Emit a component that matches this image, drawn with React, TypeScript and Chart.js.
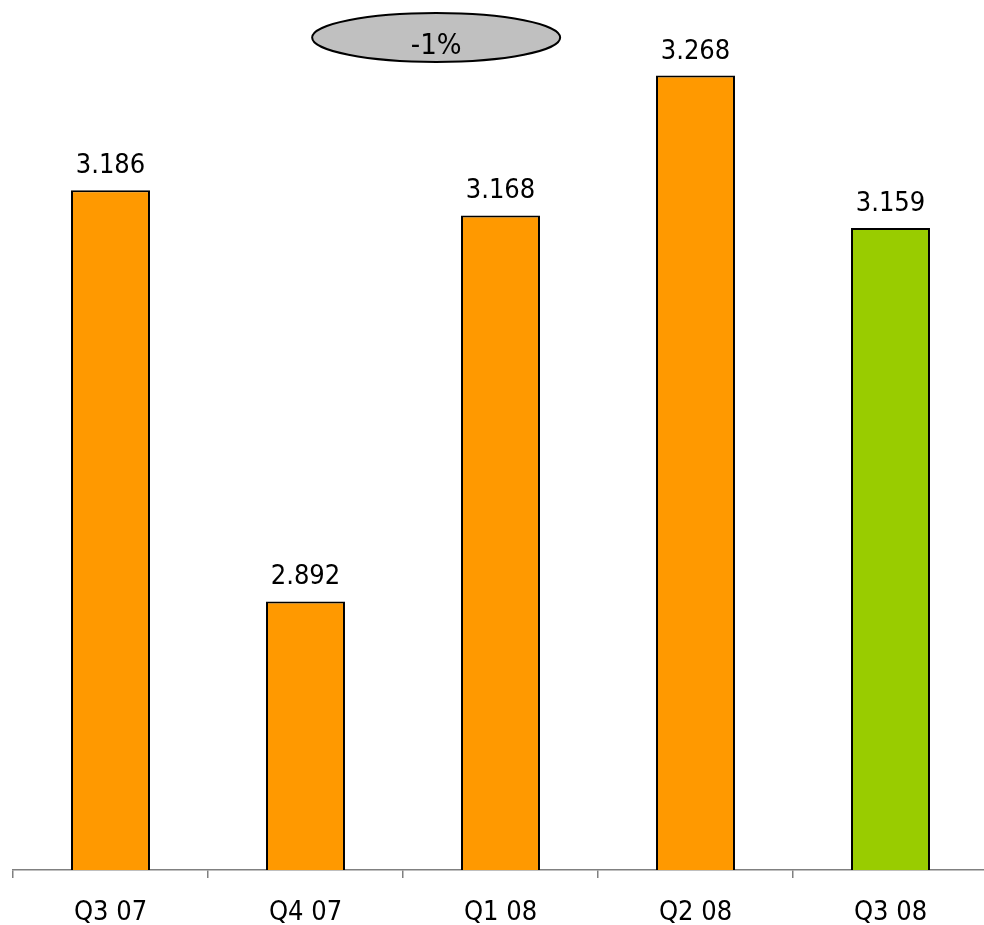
import React, { useEffect, useRef } from "react";
import { Chart, registerables } from "chart.js";

Chart.register(...registerables);

const categories = ["Q3 07", "Q4 07", "Q1 08", "Q2 08", "Q3 08"];
const values = [3.186, 2.892, 3.168, 3.268, 3.159];
const barColors = ["#FF9900", "#FF9900", "#FF9900", "#FF9900", "#99CC00"];
const changeLabel = "-1%";
const valueLabels = ["3.186", "2.892", "3.168", "3.268", "3.159"];

const FONT = "'DejaVu Sans Condensed', 'DejaVu Sans', sans-serif";

const labelPlugin = {
  id: "valueLabels",
  afterDatasetsDraw(chart: any) {
    const ctx = chart.ctx;
    const meta = chart.getDatasetMeta(0);
    ctx.save();
    ctx.font = `27px ${FONT}`;
    ctx.fillStyle = "#000";
    ctx.textAlign = "center";
    ctx.textBaseline = "alphabetic";
    meta.data.forEach((bar: any, i: number) => {
      ctx.fillText(valueLabels[i], bar.x, bar.y - 17);
    });
    // change ellipse
    const ca = chart.chartArea;
    const cx = ca.left + (ca.right - ca.left) * 0.434;
    const cy = 37.5;
    ctx.beginPath();
    ctx.ellipse(cx, cy, 124, 24.5, 0, 0, Math.PI * 2);
    ctx.fillStyle = "#C0C0C0";
    ctx.fill();
    ctx.lineWidth = 2;
    ctx.strokeStyle = "#000";
    ctx.stroke();
    ctx.fillStyle = "#000";
    ctx.font = `29px ${FONT}`;
    ctx.textBaseline = "alphabetic";
    ctx.fillText(changeLabel, cx, cy + 16);
    ctx.restore();
  },
};

export default function App() {
  const ref = useRef<HTMLCanvasElement>(null);
  useEffect(() => {
    document.body.style.margin = "0";
    document.documentElement.style.overflow = "hidden";
    document.body.style.overflow = "hidden";
    const chart = new Chart(ref.current!, {
      type: "bar",
      data: {
        labels: categories,
        datasets: [
          {
            data: values,
            backgroundColor: barColors,
            borderColor: "#000",
            borderWidth: 2,
            borderSkipped: "bottom",
            barPercentage: 0.405,
            categoryPercentage: 1,
          },
        ],
      },
      options: {
        animation: false,
        responsive: false,
        maintainAspectRatio: false,
        layout: { padding: { left: 13, right: 0, top: 0, bottom: 0 } },
        plugins: { legend: { display: false }, tooltip: { enabled: false } },
        scales: {
          y: {
            display: false,
            min: 2.7,
            max: 3.322,
          },
          x: {
            offset: true,
            grid: {
              offset: true,
              drawOnChartArea: false,
              drawTicks: true,
              tickLength: 8,
              color: "#808080",
              lineWidth: 1.5,
            },
            border: { display: true, color: "#808080", width: 1.5 },
            ticks: {
              color: "#000",
              font: { family: FONT, size: 27 },
              padding: 19,
              maxRotation: 0,
            },
            afterFit(scale: any) {
              scale.height = 55;
            },
          },
        },
      },
      plugins: [labelPlugin],
    });
    return () => chart.destroy();
  }, []);
  return (
    <div style={{ width: 988, height: 925, overflow: "hidden" }}>
      <canvas ref={ref} width={988} height={925} style={{ display: "block" }} />
    </div>
  );
}
